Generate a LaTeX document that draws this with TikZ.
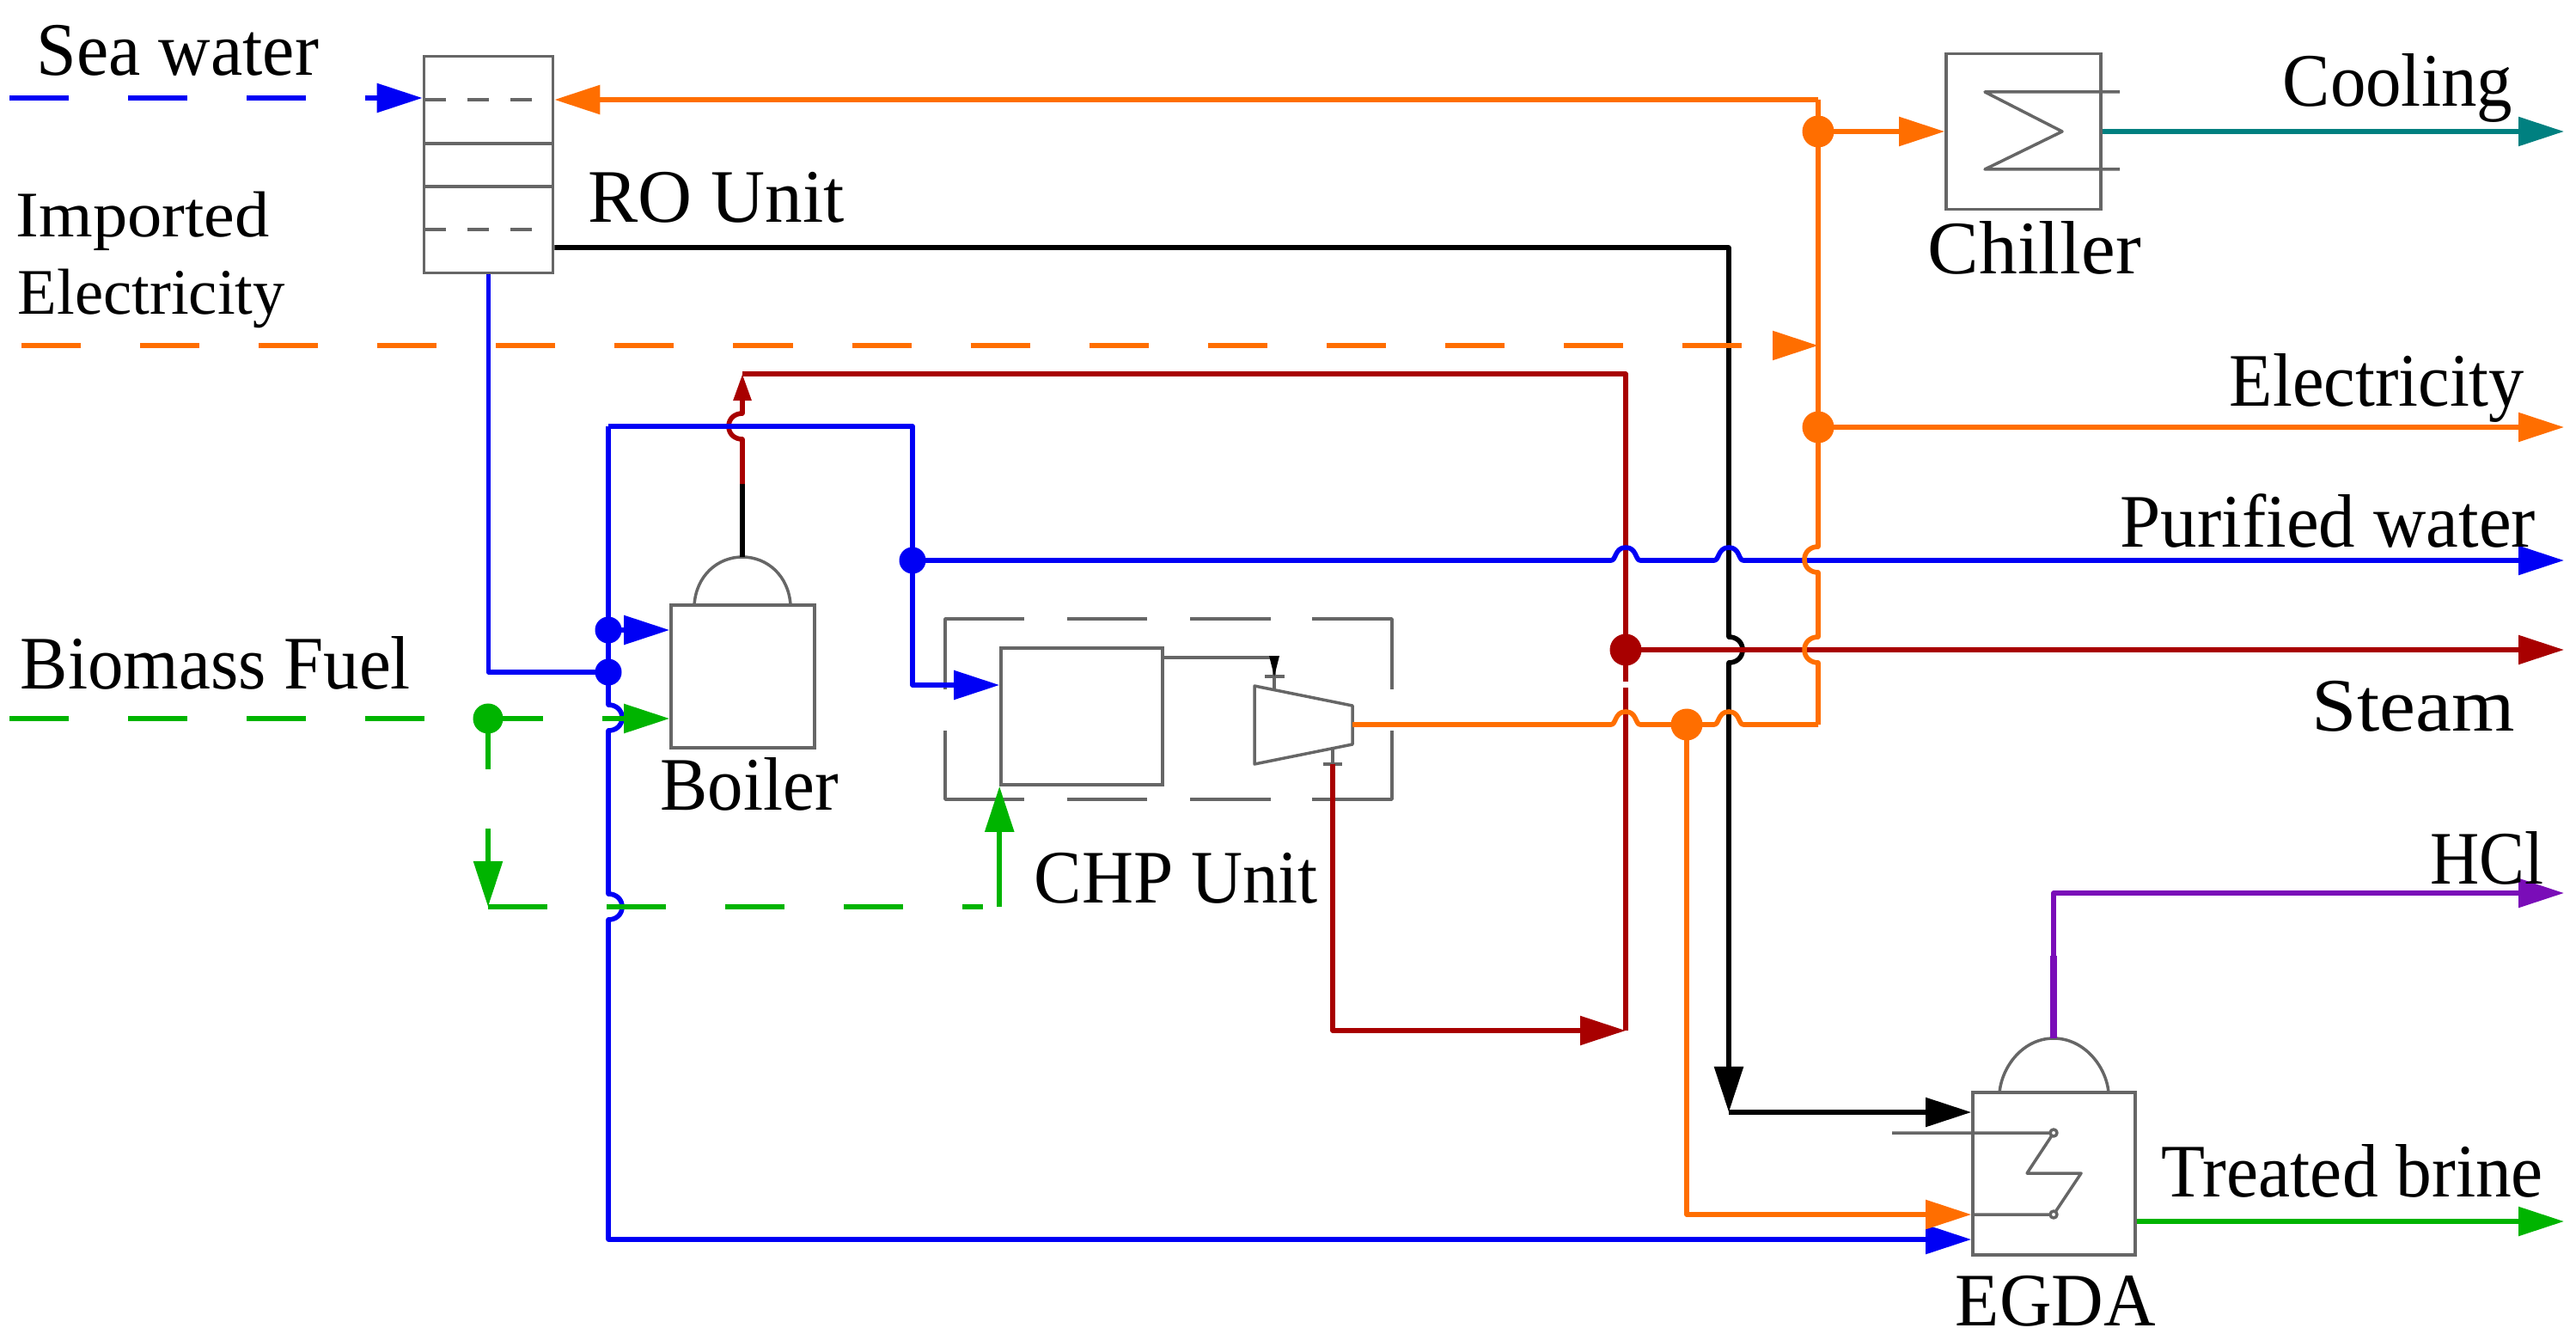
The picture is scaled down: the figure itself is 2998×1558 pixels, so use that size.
\documentclass[tikz,border=0pt]{standalone}
\usepackage{graphicx}
\usepackage{fontspec}
\setmainfont{Liberation Serif}
\usetikzlibrary{arrows.meta}
\definecolor{cblue}{HTML}{0000F5}
\definecolor{corange}{HTML}{FF6E00}
\definecolor{cred}{HTML}{A80000}
\definecolor{cgreen}{HTML}{00B400}
\definecolor{cteal}{HTML}{008080}
\definecolor{cpurple}{HTML}{7A0DB8}
\definecolor{cgrey}{HTML}{666666}
\tikzset{
  flow/.style={line width=.056cm,line join=round,draw=#1},
  tip/.style={-{Triangle[length=.53cm,width=.33cm]}},
  dashflow/.style={flow=#1,dash pattern=on .69cm off .69cm},
  unit/.style={draw=cgrey,line width=.035cm,rectangle,inner sep=0pt,fill=none},
  part/.style={draw=cgrey,line width=.035cm,line join=round},
  dot/.style={circle,fill=#1,inner sep=0pt,minimum size=.33cm},
  lab/.style={anchor=base west,inner sep=0pt,font=\fontsize{25}{30}\selectfont,text=black},
}
% horizontal line hops over a vertical one at (x,y)
\newcommand\hop[2]{-- ({#1-17},#2) .. controls ({#1-11},#2) and ({#1-13},{#2-15}) .. (#1,{#2-15}) .. controls ({#1+13},{#2-15}) and ({#1+11},#2) .. ({#1+17},#2)}
% vertical line jogs round a horizontal one at (x,y); #3 = side, #4 = direction
\newcommand\jog[4]{-- (#1,{#2-#4*15}) .. controls ({#1+#3*9},{#2-#4*15}) and ({#1+#3*16},{#2-#4*9}) .. ({#1+#3*16},#2) .. controls ({#1+#3*16},{#2+#4*9}) and ({#1+#3*9},{#2+#4*15}) .. (#1,{#2+#4*15})}
\newcommand\lbl[5]{\node[lab] (#1) at (#2,#3) {\resizebox{#4cm}{\height}{#5}};}
\begin{document}
\begin{tikzpicture}[x=.01cm,y=-.01cm]
\useasboundingbox (0,0) rectangle (2998,1558);

% ---------- units
\node[unit,minimum width=1.50cm,minimum height=2.52cm] (ro) at (568.5,191.5) {};
\node[unit,minimum width=1.80cm,minimum height=1.81cm] (chiller) at (2355,153) {};
\node[unit,minimum width=1.67cm,minimum height=1.66cm] (boiler) at (864.5,787) {};
\node[unit,minimum width=1.88cm,minimum height=1.59cm] (chp) at (1259,833.5) {};
\node[unit,minimum width=1.89cm,minimum height=1.89cm] (egda) at (2390.5,1365.5) {};

% RO inner lines
\draw[part] (494,167) -- (644,167);
\draw[part] (494,217) -- (644,217);
\draw[part,dash pattern=on .25cm off .25cm] (494,116) -- (644,116);
\draw[part,dash pattern=on .25cm off .25cm] (494,267) -- (644,267);

% chiller coil
\draw[part] (2467,107) -- (2310,107) -- (2400,153) -- (2310,197) -- (2467,197);

% boiler and EGDA domes
\coordinate (boilertop) at (864,648);
\coordinate (egdatop) at (2390,1208);
\draw[part] (808,704) .. controls (810,670) and (835,648) .. (boilertop) .. controls (893,648) and (918,670) .. (920,704);
\draw[part] (2327,1271) .. controls (2330,1240) and (2355,1208) .. (egdatop) .. controls (2425,1208) and (2451,1240) .. (2454,1271);

% EGDA coil
\coordinate (c1) at (2390,1318);
\coordinate (c2) at (2390,1413);
\draw[part] (2202,1318) -- (c1) -- (2359,1365) -- (2422,1365) -- (c2) -- (egda.west |- c2);
\draw[part,fill=white] (c1) circle[radius=4];
\draw[part,fill=white] (c2) circle[radius=4];

% CHP dashed boundary
\draw[part] (1192,720) -- (1100,720) -- (1100,802);
\draw[part] (1100,850) -- (1100,930) -- (1192,930);
\draw[part] (1242,720) -- (1335,720);
\draw[part] (1385,720) -- (1479,720);
\draw[part] (1527,720) -- (1620,720) -- (1620,802);
\draw[part] (1242,930) -- (1335,930);
\draw[part] (1385,930) -- (1479,930);
\draw[part] (1620,850) -- (1620,930) -- (1527,930);

% turbine
\coordinate (tin) at (1483,802);
\coordinate (tout) at (1574,843);
\coordinate (tsteam) at (1551,889);
\draw[part,fill=white] (1460,798) -- (1574,821) -- (1574,866) -- (1460,889) -- cycle;
\draw[part] (chp.east |- 0,765) -- (1483,765) -- (tin);
\draw[part] (1472,787) -- (1495,787);
\fill[black] (1477,763) -- (1489,763) -- (1483,787) -- cycle;
\draw[part] (1551,870) -- (tsteam);
\draw[part] (1540,889) -- (1562,889);

% ---------- ports and junctions
\coordinate (jtop) at (2116,116);
\coordinate (jchill) at (2116,153);
\coordinate (jelec) at (2116,497);
\coordinate (jbusb) at (2116,843);
\coordinate (jtb) at (1963,843);
\coordinate (jsteam) at (1892,756);
\coordinate (jwater) at (1062,652);
\coordinate (jb1) at (708,733);
\coordinate (jb2) at (708,782);
\coordinate (jg) at (568,836);

% ---------- black
\draw[flow=black,tip] (ro.east |- 0,288) -- (2012,288) -- (2012,741) .. controls (2021,741) and (2028,747) .. (2028,756) .. controls (2028,765) and (2021,771) .. (2012,771) -- (2012,1294);
\draw[flow=black,tip] (2012,1294) -- (egda.west |- 0,1294);
\draw[flow=black] (boilertop) -- (864,563);

% ---------- red
\draw[flow=cred,-{Triangle[length=.31cm,width=.2cm]}] (864,563) \jog{864}{496}{-1}{-1} -- (864,435);
\draw[flow=cred] (864,435) -- (1892,435) -- (1892,793);
\draw[flow=cred] (1892,800) -- (1892,1199);
\draw[flow=cred,tip] (tsteam) -- (1551,1199) -- (1892,1199);
\draw[flow=cred,tip] (jsteam) -- (2984,756);

% ---------- blue
\draw[flow=cblue] (ro.south) -- (ro.south |- jb2) -- (jb2);
\draw[flow=cblue,tip] (708,496) -- (jb1) -- (jb2) \jog{708}{835}{1}{1} \jog{708}{1055}{1}{1} -- (708,1442) -- (egda.west |- 0,1442);
\draw[flow=cblue] (708,496) -- (1062,496) -- (jwater);
\draw[flow=cblue,tip] (jwater) -- (1062,797) -- (chp.west |- 0,797);
\draw[flow=cblue,tip] (jwater) \hop{1892}{652} \hop{2012}{652} -- (2984,652);
\draw[flow=cblue,tip] (jb1) -- (boiler.west |- jb1);

% ---------- orange
\draw[flow=corange,tip] (jtop) -- (ro.east |- jtop);
\draw[flow=corange] (jtop) -- (jchill) -- (jelec) \jog{2116}{651}{-1}{1} \jog{2116}{756}{-1}{1} -- (jbusb);
\draw[flow=corange] (tout) \hop{1892}{843} -- (jtb) \hop{2012}{843} -- (jbusb);
\draw[flow=corange,tip] (jchill) -- (chiller.west |- jchill);
\draw[flow=corange,tip] (jelec) -- (2984,497);
\draw[flow=corange,tip] (jtb) -- (1963,1413) -- (egda.west |- 0,1413);
\draw[dashflow=corange,tip] (25,402) -- (jelec |- 0,402);

% ---------- sea water
\draw[dashflow=cblue,tip] (11,114) -- (ro.west |- 0,114);

% ---------- green
\draw[dashflow=cgreen,tip] (11,836) -- (boiler.west |- 0,836);
\draw[dashflow=cgreen,tip] (568,826) -- (568,1055);
\draw[dashflow=cgreen] (568,1055) -- (1144,1055);
\draw[flow=cgreen,tip] (chp.west |- 0,1055) -- (chp.south west);
\draw[flow=cgreen,tip] (egda.east |- 0,1421) -- (2984,1421);

% ---------- teal
\draw[flow=cteal,tip] (chiller.east |- jchill) -- (2984,153);

% ---------- purple
\draw[flow=cpurple,tip] (egdatop) -- (2390,1039) -- (2984,1039);
\draw[cpurple,line width=.075cm] (egdatop) -- (2390,1112);

% ---------- junction dots
\node[dot=corange,minimum size=.37cm] (dchill) at (jchill) {};
\node[dot=corange,minimum size=.37cm] (delec) at (jelec) {};
\node[dot=corange,minimum size=.37cm] (dtb) at (jtb) {};
\node[dot=cred,minimum size=.37cm] (dsteam) at (jsteam) {};
\node[dot=cblue,minimum size=.31cm] (dwater) at (jwater) {};
\node[dot=cblue,minimum size=.31cm] (db1) at (jb1) {};
\node[dot=cblue,minimum size=.31cm] (db2) at (jb2) {};
\node[dot=cgreen,minimum size=.35cm] (dg) at (jg) {};

% ---------- labels
\lbl{lsea}{42}{88}{3.28}{Sea water}
\lbl{limp}{18}{275}{2.95}{\fontsize{21.5}{26}\selectfont Imported}
\lbl{lel}{20}{365}{3.11}{\fontsize{21.5}{26}\selectfont Electricity}
\lbl{lro}{684}{259}{2.98}{RO Unit}
\lbl{lbio}{23}{801}{4.54}{Biomass Fuel}
\lbl{lboil}{768}{942}{2.07}{Boiler}
\lbl{lchp}{1203}{1050}{3.30}{CHP Unit}
\lbl{lchill}{2243}{319}{2.48}{Chiller}
\lbl{lcool}{2656}{124}{2.67}{Cooling}
\lbl{lelec}{2594}{472}{3.43}{Electricity}
\lbl{lpur}{2467}{636}{4.83}{Purified water}
\lbl{lsteam}{2690}{850}{2.36}{Steam}
\lbl{lhcl}{2828}{1028}{1.32}{HCl}
\lbl{ltb}{2515}{1392}{4.44}{Treated brine}
\lbl{legda}{2275}{1542}{2.33}{EGDA}
\end{tikzpicture}
\end{document}
